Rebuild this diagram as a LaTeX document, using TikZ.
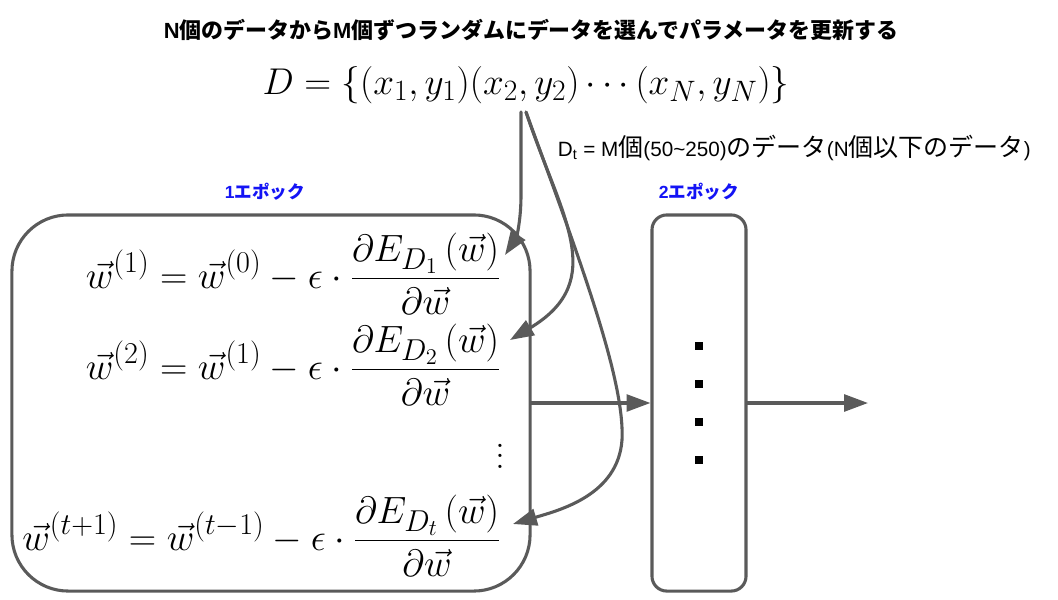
\documentclass[tikz,border=0pt]{standalone}
\usepackage{fix-cm}
\usepackage{amsmath}
\usepackage{fontspec}
\setmainfont{Noto Sans CJK JP}
\newfontfamily\latin{Liberation Sans}
\newfontfamily\lmfont{Latin Modern Roman}
\DeclareMathSizes{27}{27}{21.5}{16}
\DeclareMathSizes{26.5}{26.5}{21}{15.5}
\usetikzlibrary{arrows.meta}
\begin{document}
\begin{tikzpicture}[x=0.025cm, y=-0.025cm, line join=round, line cap=round]
  \definecolor{cLine}{RGB}{90, 90, 90}
  \definecolor{cEpoch}{RGB}{20, 20, 245}
  \tikzset{
    link/.style={cLine, line width=2.2pt, -{Triangle[length=17pt, width=12pt]}},
    epochbox/.style={draw=cLine, line width=2.2pt, minimum height=9.4cm},
    eqn/.style={anchor=base east, inner sep=0pt, font=\fontsize{27}{30}\selectfont},
    epochlabel/.style={font=\bfseries\fontsize{12.5}{14}\selectfont, text=cEpoch},
  }
  \newcommand\lat[1]{{\latin\fontsize{14.7}{16}\selectfont #1}}
  \useasboundingbox (0,0) rectangle (1058,599);

  \node[font=\bfseries\fontsize{15.6}{18}\selectfont] (title) at (531,30)
    {{\latin N}個のデータから{\latin M}個ずつランダムにデータを選んでパラメータを更新する};
  \node[font=\fontsize{26.5}{30}\selectfont] (data) at (526,85)
    {$D=\{(x_1,y_1)(x_2,y_2)\cdots(x_N,y_N)\}$};
  \node[anchor=west, font=\fontsize{17.8}{19}\selectfont] (subset) at (553,148)
    {\lat{D\textsubscript{t} = M}個\lat{(50\textasciitilde 250)}のデータ\lat{(N}個以下のデータ\lat{)}};

  \node[epochlabel] (lab1) at (265,192) {{\latin 1}エポック};
  \node[epochlabel] (lab2) at (699,192) {{\latin 2}エポック};

  \node[epochbox, rounded corners=40pt, minimum width=12.95cm] (epoch1) at (271,403) {};
  \node[epochbox, rounded corners=10.5pt, minimum width=2.35cm] (epoch2) at (699,403) {};

  % update rules of the first epoch
  \node[eqn] (eq1) at (501,288)
    {$\displaystyle \vec{w}^{(1)}=\vec{w}^{(0)}-\epsilon\cdot\frac{\partial E_{D_1}\left(\vec{w}\right)}{\partial\vec{w}}$};
  \node[eqn] (eq2) at (501,379)
    {$\displaystyle \vec{w}^{(2)}=\vec{w}^{(1)}-\epsilon\cdot\frac{\partial E_{D_2}\left(\vec{w}\right)}{\partial\vec{w}}$};
  \node[align=center, inner sep=0pt, font=\lmfont\fontsize{28}{7.5pt}\selectfont] (vdots) at (500,456) {.\\.\\.};
  \node[eqn] (eq3) at (501,550)
    {$\displaystyle \vec{w}^{(t+1)}=\vec{w}^{(t-1)}-\epsilon\cdot\frac{\partial E_{D_t}\left(\vec{w}\right)}{\partial\vec{w}}$};

  % dots of the second epoch
  \foreach \y [count=\i] in {346, 384, 422, 460}
    \node[fill=black, inner sep=0pt, minimum size=5pt] (dot\i) at (699,\y) {};

  \coordinate (src1) at (521,112);
  \coordinate (src2) at (526,112);
  \coordinate (in1) at (505,255);
  \coordinate (in2) at (510,340);
  \coordinate (in3) at (513,524);
  \coordinate (out) at (868,403);

  \draw[link] (src1) -- (521,195) .. controls (521,225) and (515,240) .. (in1);
  \draw[link] (src2) .. controls (560,215) and (610,280) .. (in2);
  \draw[link] (src2) .. controls (580,260) and (625,380) .. (622,440)
                     .. controls (618,495) and (560,510) .. (in3);

  \draw[link] (epoch1) -- (epoch2);
  \draw[link] (epoch2) -- (out);
\end{tikzpicture}
\end{document}
